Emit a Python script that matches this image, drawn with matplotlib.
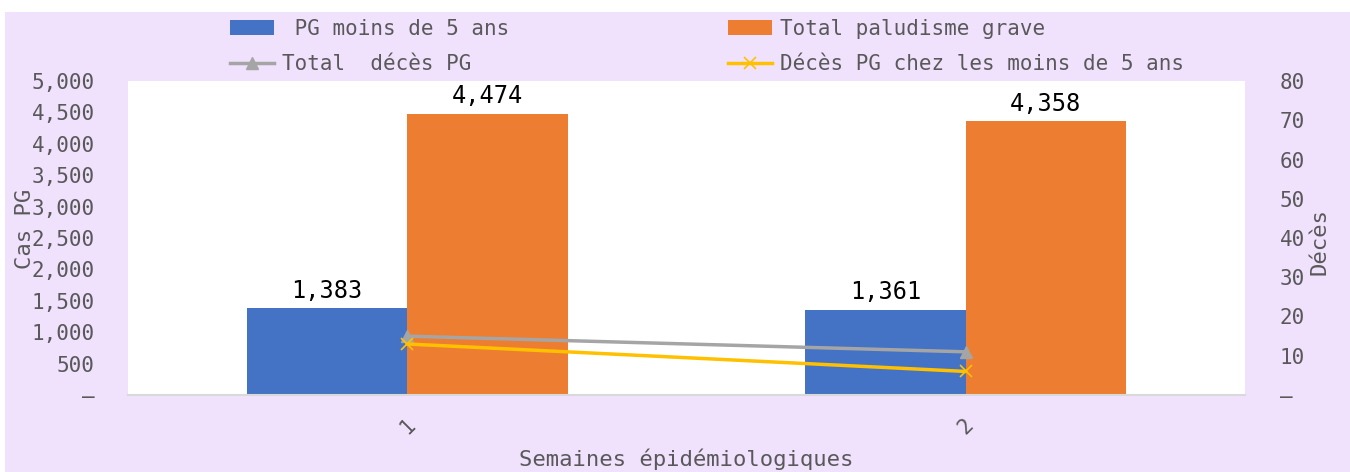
import matplotlib
matplotlib.use("Agg")
from matplotlib import pyplot as plt
from matplotlib.patches import Rectangle
from matplotlib.ticker import FuncFormatter
import numpy as np

weeks = ["1", "2"]
pg_moins_5 = [1383, 1361]
total_pg = [4474, 4358]
total_deces = [15, 11]
deces_moins_5 = [13, 6]

plt.rcParams['font.family'] = ['DejaVu Sans Mono']
grey_txt = '#595959'


def thousands(v, pos):
    if v == 0:
        return '–'
    return '{:,}'.format(int(v))


fig = plt.figure(figsize=(13.5, 4.72), dpi=100)
fig.patches.append(Rectangle((5 / 1350, 0), 1, 1 - 12 / 472, transform=fig.transFigure,
                             facecolor='#F0E1FD', edgecolor='none', zorder=-10))
ax = fig.add_axes([128 / 1350, 1 - 395 / 472, (1245 - 128) / 1350, (395 - 81) / 472])
ax2 = ax.twinx()

x = np.arange(len(weeks))
w = 0.287
b1 = ax.bar(x - w / 2, pg_moins_5, w, color='#4472C4', label=' PG moins de 5 ans')
b2 = ax.bar(x + w / 2, total_pg, w, color='#ED7D31', label='Total paludisme grave')
for bars in (b1, b2):
    for r in bars:
        ax.annotate('{:,}'.format(int(r.get_height())), (r.get_x() + r.get_width() / 2, r.get_height()),
                    xytext=(0, 4), textcoords='offset points', ha='center', va='bottom',
                    fontsize=17, color='black')

l1, = ax2.plot(x, total_deces, color='#A5A5A5', lw=2.5, marker='^', ms=8, label='Total  décès PG')
l2, = ax2.plot(x, deces_moins_5, color='#FFC000', lw=2.5, marker='x', ms=8, mew=1.2,
               label='Décès PG chez les moins de 5 ans')

ax.set_xlim(-0.5, 1.5)
ax.set_ylim(0, 5000)
ax2.set_ylim(0, 80)
ax.set_yticks(range(0, 5001, 500))
ax2.set_yticks(range(0, 81, 10))
ax.yaxis.set_major_formatter(FuncFormatter(thousands))
ax2.yaxis.set_major_formatter(FuncFormatter(thousands))
ax.set_xticks(x)
ax.set_xticklabels(weeks, rotation=45)

for a in (ax, ax2):
    for s in a.spines.values():
        s.set_visible(False)
    a.tick_params(length=0, labelsize=15, labelcolor=grey_txt)
ax.spines['bottom'].set_visible(True)
ax.spines['bottom'].set_color('#D9D9D9')
ax.spines['bottom'].set_linewidth(1.5)
ax.tick_params(axis='x', pad=14)
ax.tick_params(axis='y', pad=24)
ax2.tick_params(axis='y', pad=25)

ax.set_xlabel('Semaines épidémiologiques', fontsize=16, color=grey_txt, labelpad=8)
ax.set_ylabel('Cas PG', fontsize=16, color=grey_txt)
ax2.set_ylabel('Décès', fontsize=16, color=grey_txt)
ax.yaxis.set_label_coords(-0.083, 0.53)
ax2.yaxis.set_label_coords(1.058, 0.49)

fig.legend([b1, l1, b2, l2], [b1.get_label(), l1.get_label(), b2.get_label(), l2.get_label()],
           ncol=2, loc='upper center', bbox_to_anchor=(0.524, 1.0), frameon=False,
           fontsize=15, labelcolor=grey_txt, handlelength=2.1, handletextpad=0.4,
           columnspacing=10.5, labelspacing=0.75)

fig.savefig('out.png', dpi=100)
